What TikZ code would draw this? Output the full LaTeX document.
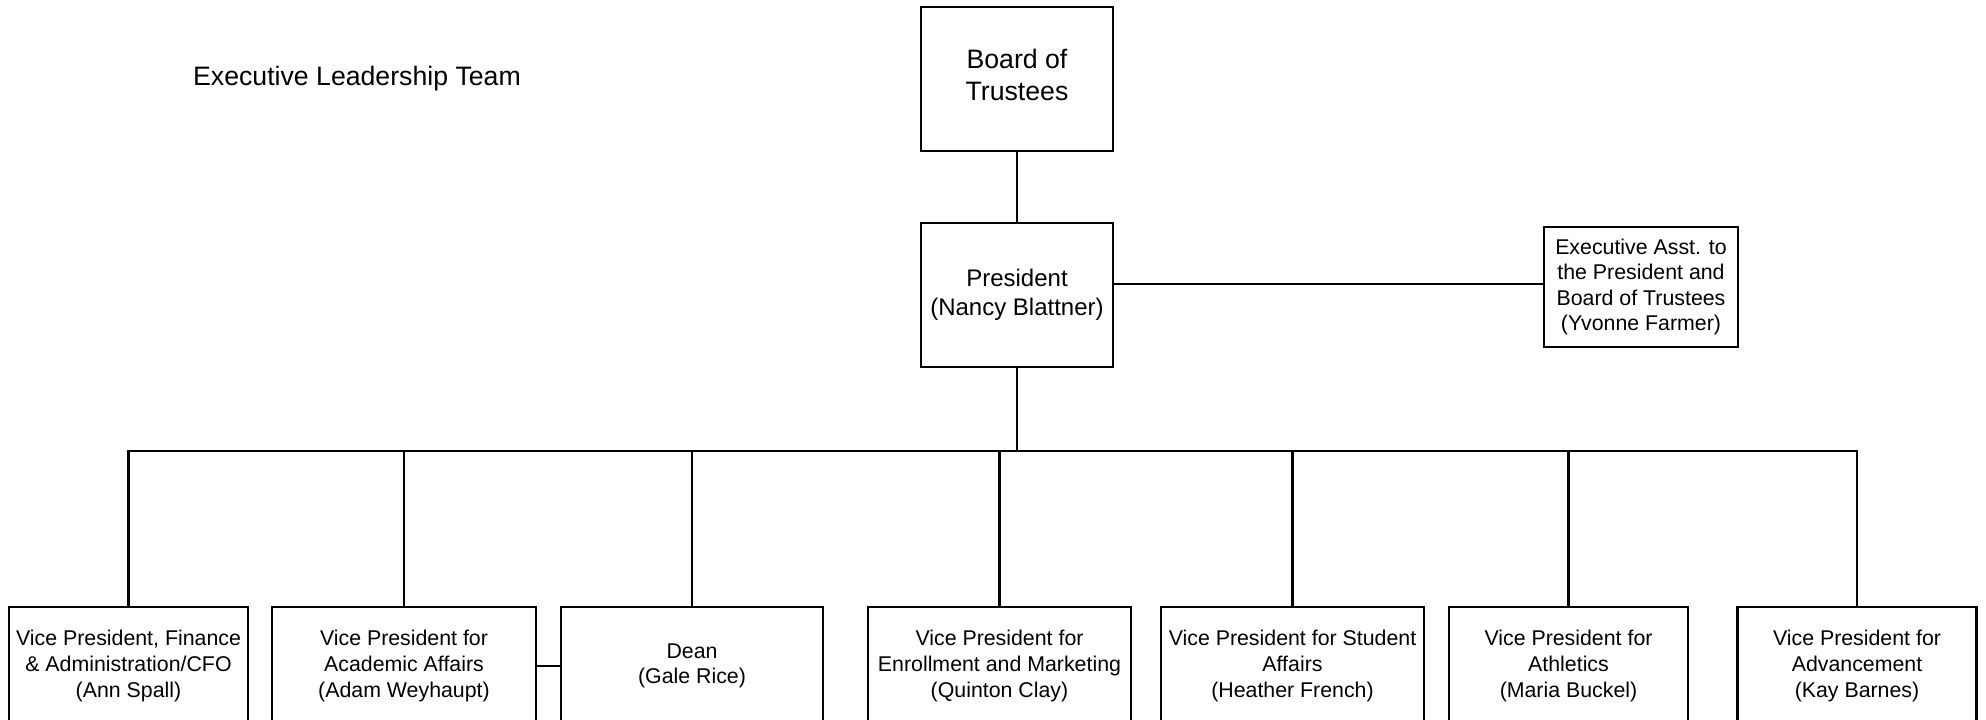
\documentclass[tikz,border=0pt]{standalone}
\usepackage{fontspec}
\setmainfont{Liberation Sans}
\begin{document}
\begin{tikzpicture}[x=0.75pt,y=-0.75pt,
  box/.style={draw=black, line width=1.7pt, rectangle, align=center, inner sep=0pt,
    font=\fontsize{16}{19.2}\selectfont},
  vpbox/.style={box, minimum height=88.5pt},
  conn/.style={draw=black, line width=1.7pt, line cap=rect},
]
\useasboundingbox (0,0) rectangle (1986,719);
\clip (0,0) rectangle (1986,719);
\fill[white] (0,0) rectangle (1986,719);

\node[font=\fontsize{20}{24}\selectfont] (title) at (357,79) {Executive Leadership Team};

\node[box, minimum width=144pt, minimum height=108pt, text depth=6pt, font=\fontsize{20}{24}\selectfont] (board) at (1017,79) {Board of\\Trustees};
\node[box, minimum width=144pt, minimum height=108pt, font=\fontsize{18}{21.6}\selectfont] (pres) at (1017,295) {President\\(Nancy Blattner)};
\node[box, minimum width=145.5pt, minimum height=90pt] (exec) at (1641,287) {Executive Asst. to\\the President and\\Board of Trustees\\(Yvonne Farmer)};

\node[vpbox, minimum width=179.25pt] (vp1) at (128.5,666) {Vice President, Finance\\\& Administration/CFO\\(Ann Spall)};
\node[vpbox, minimum width=198pt] (vp2) at (404,666) {Vice President for\\Academic Affairs\\(Adam Weyhaupt)};
\node[vpbox, minimum width=196.5pt] (dean) at (692,666) {Dean\\(Gale Rice)};
\node[vpbox, minimum width=197.25pt] (vp4) at (999.5,666) {Vice President for\\Enrollment and Marketing\\(Quinton Clay)};
\node[vpbox, minimum width=197.25pt] (vp5) at (1292.5,666) {Vice President for Student\\Affairs\\(Heather French)};
\node[vpbox, minimum width=179.25pt] (vp6) at (1568.5,666) {Vice President for\\Athletics\\(Maria Buckel)};
\node[vpbox, minimum width=179.25pt] (vp7) at (1857,666) {Vice President for\\Advancement\\(Kay Barnes)};

\coordinate (bus) at (1017,451);

\draw[conn] (board.south) -- (pres.north);
\draw[conn] ([yshift=2pt]exec.west -| pres.east) -- ([yshift=2pt]exec.west);
\draw[conn] (pres.south) -- (bus);
\draw[conn] (vp1.north) -- (vp1.north |- bus) -- (vp7.north |- bus) -- (vp7.north);
\draw[conn] (vp2.north) -- (vp2.north |- bus);
\draw[conn] (dean.north) -- (dean.north |- bus);
\draw[conn] (vp4.north) -- (vp4.north |- bus);
\draw[conn] (vp5.north) -- (vp5.north |- bus);
\draw[conn] (vp6.north) -- (vp6.north |- bus);
\draw[conn] (vp2.east) -- (dean.west);
\end{tikzpicture}
\end{document}
